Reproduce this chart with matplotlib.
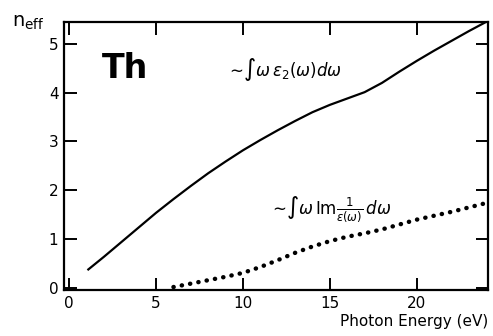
import matplotlib.pyplot as plt

# solid curve: -int w eps2(w) dw
e_solid = [1.1, 2.0, 3.0, 4.0, 5.0, 6.0, 7.0, 8.0, 9.0, 10.0, 11.0, 12.0, 13.0, 14.0,
           15.0, 16.0, 17.0, 18.0, 19.0, 20.0, 21.0, 22.0, 23.0, 24.0]
n_solid = [0.38, 0.64, 0.94, 1.24, 1.54, 1.82, 2.09, 2.35, 2.59, 2.82, 3.03, 3.23, 3.42, 3.6,
           3.75, 3.88, 4.01, 4.2, 4.43, 4.65, 4.86, 5.06, 5.26, 5.45]

# dotted curve: -int w Im(1/eps) dw
e_dot = [6.0, 7.0, 8.0, 9.0, 10.0, 11.0, 12.0, 13.0, 14.0, 15.0, 16.0, 17.0, 18.0,
         19.0, 20.0, 21.0, 22.0, 23.0, 24.0]
n_dot = [0.02, 0.09, 0.16, 0.23, 0.31, 0.43, 0.57, 0.72, 0.85, 0.96, 1.05, 1.12, 1.2,
         1.3, 1.4, 1.48, 1.56, 1.65, 1.74]

xticks = [0, 5, 10, 15, 20]
yticks = [0, 1, 2, 3, 4, 5]

fig = plt.figure(figsize=(4.93, 3.36), dpi=100)
ax = fig.add_axes([0.1298, 0.137, 0.86, 0.798])

ax.plot(e_solid, n_solid, color='black', lw=1.6)
ax.plot(e_dot, n_dot, color='black', lw=3.2, linestyle=(0, (0.05, 1.85)),
        dash_capstyle='round')

ax.set_xlim(-0.3, 24.1)
ax.set_ylim(-0.04, 5.45)
ax.set_xticks(xticks)
ax.set_yticks(yticks)
ax.tick_params(direction='in', length=9, width=1.4, top=True, right=True,
               labelsize=11, pad=4)
for s in ax.spines.values():
    s.set_linewidth(1.6)

ax.text(3.2, 4.5, 'Th', fontsize=24, fontweight='bold', ha='center', va='center')
ax.text(9.0, 4.35, r'$\sim\!\int\omega\,\varepsilon_2(\omega)d\omega$', fontsize=12)
ax.text(11.5, 1.5, r'$\sim\!\int\omega\,\mathrm{Im}\frac{1}{\varepsilon(\omega)}\,d\omega$',
        fontsize=12)

fig.text(0.025, 0.92, r'$\mathrm{n_{eff}}$', fontsize=14)
fig.text(0.99, 0.02, 'Photon Energy (eV)', fontsize=11, ha='right', va='bottom')

fig.savefig('out.png', dpi=100)
